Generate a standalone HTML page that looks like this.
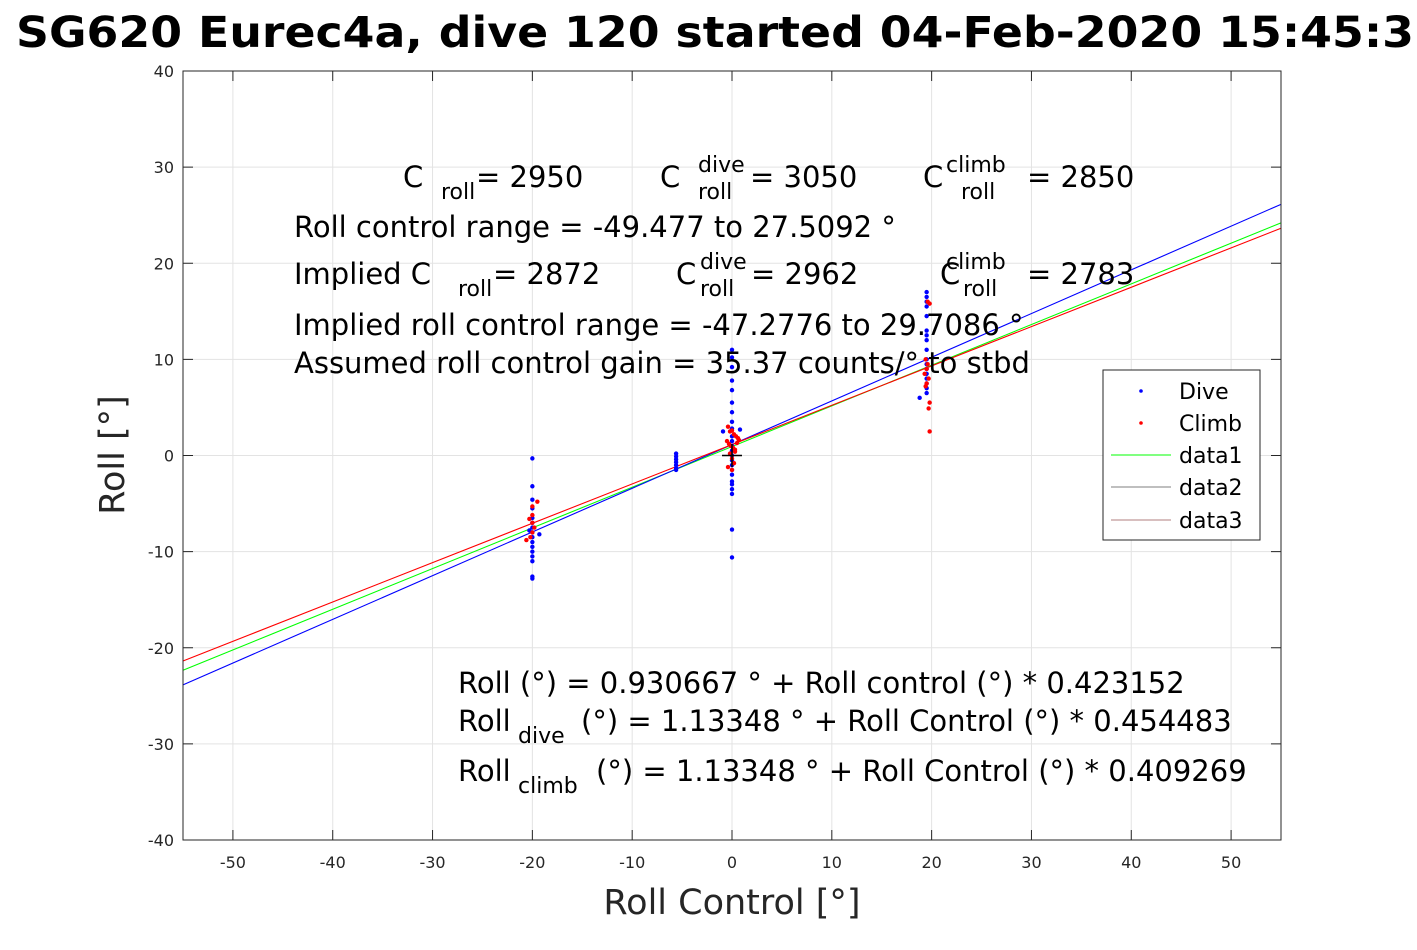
<!DOCTYPE html>
<html><head><meta charset="utf-8"><style>
body{margin:0;background:#fff;}
svg{font-family:"DejaVu Sans","Liberation Sans",sans-serif;}
</style></head><body>
<svg id="chart" width="1417" height="945" viewBox="0 0 1417 945" xmlns="http://www.w3.org/2000/svg">
<rect width="1417" height="945" fill="#fff"/>
<text x="715" y="47" font-size="43" font-weight="bold" text-anchor="middle" textLength="1398" lengthAdjust="spacingAndGlyphs">SG620 Eurec4a, dive 120 started 04-Feb-2020 15:45:3</text>
<g id="grid"></g><g id="lines"></g><g id="pts"></g><g id="ticks"></g>
<rect x="183" y="71" width="1098" height="769" fill="none" stroke="#262626" stroke-width="1"/>
<g font-size="29" fill="#000">
<text x="403" y="187">C</text><text x="441" y="199" font-size="22">roll</text><text x="476" y="187">= 2950</text>
<text x="660" y="187">C</text><text x="698" y="199" font-size="22">roll</text><text x="698" y="172" font-size="22">dive</text><text x="750" y="187">= 3050</text>
<text x="923" y="187">C</text><text x="961" y="199" font-size="22">roll</text><text x="946" y="172" font-size="22">climb</text><text x="1027" y="187">= 2850</text>
<text x="294" y="237">Roll control range = -49.477 to 27.5092 °</text>
<text x="294" y="284">Implied C</text><text x="458" y="296" font-size="22">roll</text><text x="493" y="284">= 2872</text>
<text x="676" y="284">C</text><text x="700" y="296" font-size="22">roll</text><text x="700" y="269" font-size="22">dive</text><text x="751" y="284">= 2962</text>
<text x="940" y="284">C</text><text x="963" y="296" font-size="22">roll</text><text x="946" y="269" font-size="22">climb</text><text x="1027" y="284">= 2783</text>
<text x="294" y="335">Implied roll control range = -47.2776 to 29.7086 °</text>
<text x="294" y="373">Assumed roll control gain = 35.37 counts/° to stbd</text>
<text x="458" y="693">Roll (°) = 0.930667 ° + Roll control (°) * 0.423152</text>
<text x="458" y="731">Roll</text><text x="518" y="743" font-size="22">dive</text><text x="581" y="731">(°) = 1.13348 ° + Roll Control (°) * 0.454483</text>
<text x="458" y="781">Roll</text><text x="518" y="793" font-size="22">climb</text><text x="596" y="781">(°) = 1.13348 ° + Roll Control (°) * 0.409269</text>
</g>
<text x="732" y="914" font-size="35" fill="#262626" text-anchor="middle">Roll Control [°]</text>
<text transform="translate(124,455) rotate(-90)" font-size="35" fill="#262626" text-anchor="middle">Roll [°]</text>
<g>
<rect x="1103" y="370" width="157" height="170" fill="#fff" stroke="#262626"/>
<circle cx="1141" cy="391" r="1.8" fill="#00f"/><text x="1179" y="399" font-size="22">Dive</text>
<circle cx="1141" cy="423" r="1.8" fill="#f00"/><text x="1179" y="431" font-size="22">Climb</text>
<line x1="1111" x2="1171" y1="455" y2="455" stroke="#0f0"/><text x="1179" y="463" font-size="22">data1</text>
<line x1="1111" x2="1171" y1="487" y2="487" stroke="#000" stroke-width="0.6"/><text x="1179" y="495" font-size="22">data2</text>
<line x1="1111" x2="1171" y1="520" y2="520" stroke="#600" stroke-width="0.6"/><text x="1179" y="528" font-size="22">data3</text>
</g>
</svg>
<script>
const xTicks=[-50,-40,-30,-20,-10,0,10,20,30,40,50];
const yTicks=[-40,-30,-20,-10,0,10,20,30,40];
const fitIntercepts=[0.930667,1.13348,1.13348];
const fitSlopes=[0.423152,0.454483,0.409269];
const fitColors=['#0f0','#00f','#f00'];
const diveX=[-20,-20,-20,-20,-20,-20,-20,-20,-20,-20,-20,-20,-20,-20,-20,-20,-19.3,-20.3,-5.6,-5.6,-5.6,-5.6,-5.6,-5.6,-5.6,0,0,0,0,0,0,0,0,0,0,0,0,0,0,0,0,0,0,0,0,0,0,0,0,-0.9,0.8,19.5,19.5,19.5,19.5,19.5,19.5,19.5,19.5,19.5,19.5,19.5,19.5,19.5,19.5,19.5,19.5,19.5,18.8];
const diveY=[-0.3,-3.2,-4.6,-5.5,-6.5,-7,-7.5,-8,-8.5,-9,-9.5,-10,-10.5,-11,-12.6,-12.8,-8.2,-7.8,0.2,-0.1,-0.4,-0.7,-1,-1.3,-1.5,11,10.2,9.2,7.8,6.8,5.5,4.5,3.5,2.8,2,1.5,1,0.5,0,-0.5,-1,-1.5,-2,-2.7,-3,-3.5,-4,-7.7,-10.6,2.5,2.7,17,16.5,16,15.5,14.5,13,12.5,12,11,10,9.5,9,8.5,8,7.5,7,6.5,6];
const climbX=[-19.5,-20,-20,-20.3,-20,-19.8,-20,-20.2,-20.6,-0.4,-0.2,0,0.2,0.4,0.6,-0.5,-0.3,-0.1,0.1,0.3,0.5,0.7,-0.2,0,0.2,-0.4,0,0.3,19.6,19.8,19.4,19.6,19.5,19.3,19.7,19.5,19.4,19.8,19.7,19.8];
const climbY=[-4.8,-5.3,-6.2,-6.6,-7,-7.5,-8,-8.5,-8.8,3,2.5,2.6,2.2,2,1.8,1.5,1.2,1,0.8,0.6,1.3,1.6,0.2,-0.3,-0.8,-1.2,-1.5,0.4,16,15.8,10,9.5,9,8.5,8,7.5,7.2,5.5,4.9,2.5];
const NS='http://www.w3.org/2000/svg';
const X0=183,X1=1281,Y0=840,Y1=71;
function sx(v){return X0+(v+55)/110*(X1-X0);}
function sy(v){return Y0-(v+40)/80*(Y0-Y1);}
function mk(t,a,p){const e=document.createElementNS(NS,t);for(const k in a)e.setAttribute(k,a[k]);document.getElementById(p).appendChild(e);return e;}
xTicks.forEach(t=>{
 const g=mk('line',{x1:sx(t),x2:sx(t),y1:Y1,y2:Y0,stroke:'#e3e3e3'},'grid');
 
 
 mk('line',{x1:sx(t),x2:sx(t),y1:Y0,y2:Y0-10,stroke:'#262626'},'ticks');
 mk('line',{x1:sx(t),x2:sx(t),y1:Y1,y2:Y1+10,stroke:'#262626'},'ticks');
 const l=mk('text',{x:sx(t),y:868,'font-size':16,fill:'#262626','text-anchor':'middle'},'ticks');
 l.textContent=t;
 
 
});
yTicks.forEach(t=>{
 const g=mk('line',{x1:X0,x2:X1,y1:sy(t),y2:sy(t),stroke:'#e3e3e3'},'grid');
 
 
 mk('line',{x1:X0,x2:X0+10,y1:sy(t),y2:sy(t),stroke:'#262626'},'ticks');
 mk('line',{x1:X1,x2:X1-10,y1:sy(t),y2:sy(t),stroke:'#262626'},'ticks');
 const l=mk('text',{x:174,y:sy(t)+6,'font-size':16,fill:'#262626','text-anchor':'end'},'ticks');
 l.textContent=t;
 
 
});
fitSlopes.forEach((m,i)=>{
 const b=fitIntercepts[i];
 const ln=mk('line',{x1:sx(-55),y1:sy(b+m*-55),x2:sx(55),y2:sy(b+m*55),stroke:fitColors[i],'stroke-width':1.1},'lines');
 
 
});
diveX.forEach((x,i)=>{
 const c=mk('circle',{cx:sx(x),cy:sy(diveY[i]),r:2.2,fill:'#00f'},'pts');
 
 
});
climbX.forEach((x,i)=>{
 const c=mk('circle',{cx:sx(x),cy:sy(climbY[i]),r:2.2,fill:'#f00'},'pts');
 
 
});
const c1=mk('line',{x1:sx(-1),x2:sx(1),y1:sy(0),y2:sy(0),stroke:'#000','stroke-width':1.5},'pts');


mk('line',{x1:sx(0),x2:sx(0),y1:sy(-1.2),y2:sy(1.2),stroke:'#000','stroke-width':1.5},'pts');
</script>
</body></html>
